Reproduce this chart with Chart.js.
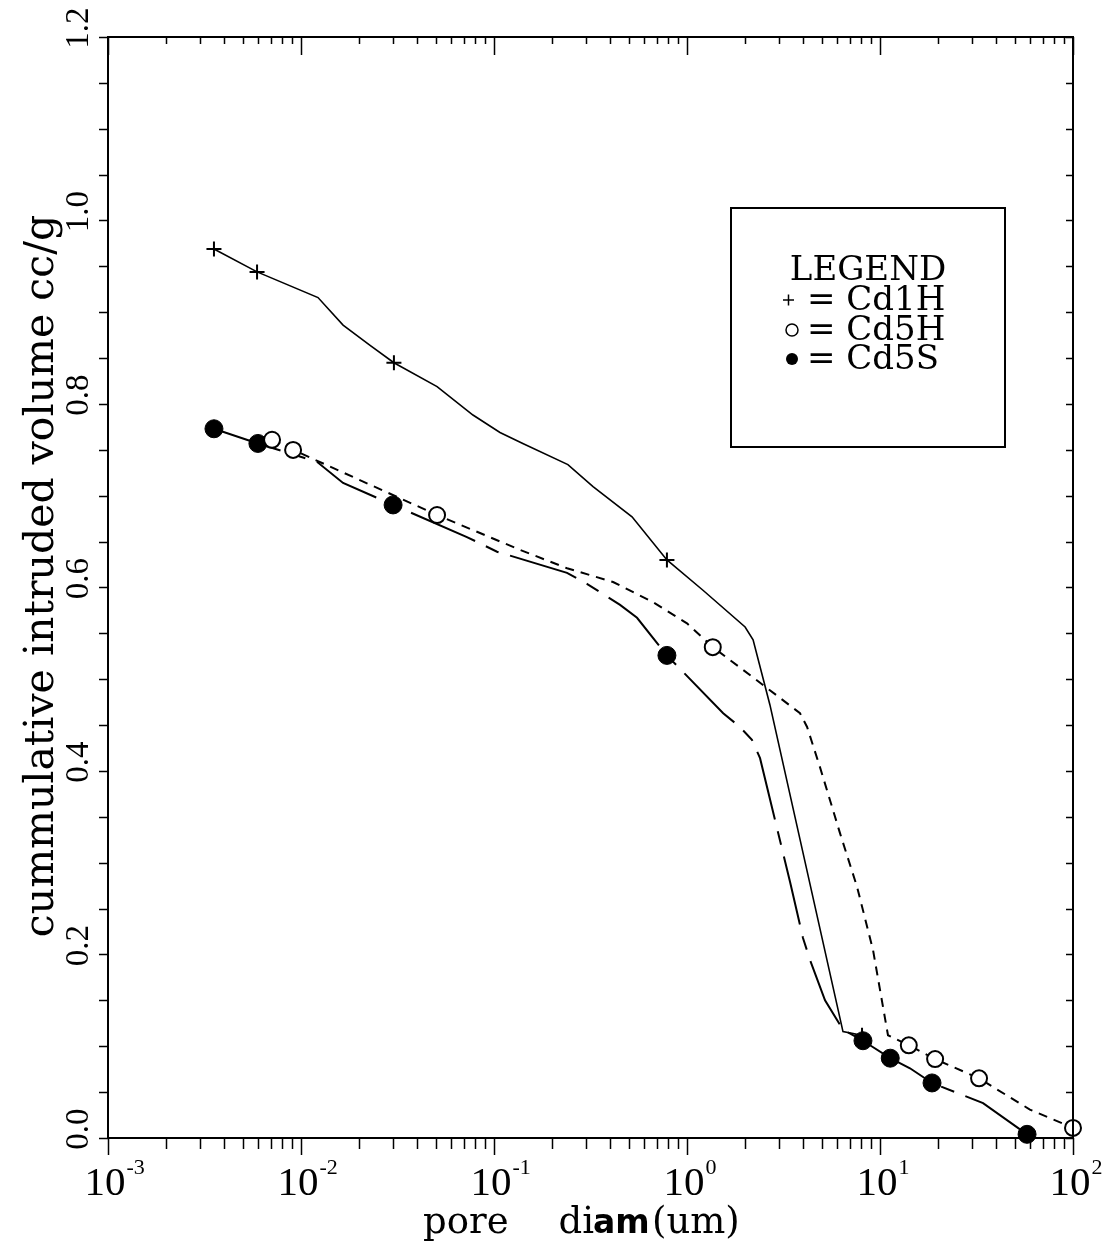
<!DOCTYPE html>
<html>
<head>
<meta charset="utf-8">
<script src="https://cdn.jsdelivr.net/npm/chart.js@4.4.1/dist/chart.umd.min.js"></script>
<style>
  html, body { margin: 0; padding: 0; background: #fff; }
  canvas { display: block; }
</style>
</head>
<body>
<canvas id="chart" width="1110" height="1247"></canvas>
<script>
// pore diameter (um) / cumulative intruded volume (cc/g)
const cd1hLineDiam = [0.00354, 0.00592, 0.01225, 0.01652, 0.0228, 0.0303, 0.0507, 0.0778, 0.1074, 0.141, 0.2415, 0.326, 0.519, 0.787, 1.21, 2.0, 2.2, 2.69, 6.43, 8.07];
const cd1hLineVol  = [0.969, 0.944, 0.916, 0.886, 0.864, 0.845, 0.819, 0.788, 0.769, 0.757, 0.734, 0.710, 0.677, 0.630, 0.597, 0.557, 0.543, 0.472, 0.116, 0.112];
const cd1hPtDiam = [0.00354, 0.00592, 0.0303, 0.787, 8.07];
const cd1hPtVol  = [0.969, 0.944, 0.845, 0.630, 0.112];

const cd5hLineDiam = [0.00708, 0.0091, 0.0507, 0.1365, 0.239, 0.414, 0.667, 1.0, 1.36, 2.2, 3.85, 4.19, 4.89, 6.21, 7.6, 9.2, 11.0, 14.1, 19.3, 32.6, 59.8, 100];
const cd5hLineVol  = [0.761, 0.750, 0.679, 0.641, 0.621, 0.606, 0.584, 0.561, 0.535, 0.502, 0.463, 0.448, 0.404, 0.332, 0.274, 0.205, 0.112, 0.101, 0.086, 0.065, 0.031, 0.011];
const cd5hPtDiam = [0.00708, 0.0091, 0.0507, 1.36, 14.1, 19.3, 32.6, 100];
const cd5hPtVol  = [0.761, 0.750, 0.679, 0.535, 0.101, 0.086, 0.065, 0.011];

const cd5sLineDiam = [0.00354, 0.00598, 0.0121, 0.01652, 0.030, 0.0724, 0.1037, 0.239, 0.303, 0.450, 0.551, 0.787, 1.54, 1.88, 2.17, 2.39, 3.42, 3.99, 4.34, 5.19, 6.43, 8.16, 11.3, 14.3, 18.6, 34.2, 57.8];
const cd5sLineVol  = [0.773, 0.757, 0.737, 0.714, 0.690, 0.655, 0.639, 0.616, 0.604, 0.581, 0.567, 0.526, 0.463, 0.448, 0.434, 0.414, 0.279, 0.218, 0.194, 0.150, 0.118, 0.106, 0.087, 0.076, 0.060, 0.038, 0.004];
const cd5sPtDiam = [0.00354, 0.00598, 0.030, 0.787, 8.16, 11.3, 18.6, 57.8];
const cd5sPtVol  = [0.773, 0.757, 0.690, 0.526, 0.106, 0.087, 0.060, 0.004];

const seriesNames = ['Cd1H', 'Cd5H', 'Cd5S'];
const xDecades = [-3, -2, -1, 0, 1, 2];
const yTickValues = [0, 0.2, 0.4, 0.6, 0.8, 1.0, 1.2];
const yTickLabels = ['0.0', '0.2', '0.4', '0.6', '0.8', '1.0', '1.2'];
const yTitle = 'cummulative intruded volume cc/g';

const pts = (xs, ys) => xs.map((x, i) => ({ x: x, y: ys[i] }));

// frame, tick marks, tick labels, titles, legend box
const decorations = {
    id: 'decorations',
    afterDraw(chart) {
        const ctx = chart.ctx;
        const a = chart.chartArea;
        const xs = chart.scales.x, ys = chart.scales.y;
        ctx.save();
        ctx.strokeStyle = '#000';
        ctx.fillStyle = '#000';
        ctx.lineWidth = 2;
        ctx.strokeRect(a.left, a.top, a.right - a.left, a.bottom - a.top);

        // x ticks
        ctx.lineWidth = 1.5;
        ctx.beginPath();
        for (const d of xDecades) {
            for (let m = 1; m <= 9; m++) {
                if (d === 2 && m > 1) break;
                const px = Math.round(xs.getPixelForValue(m * Math.pow(10, d))) + 0.5;
                const major = m === 1;
                ctx.moveTo(px, a.bottom);
                ctx.lineTo(px, a.bottom + (major ? 17 : 11));
                ctx.moveTo(px, a.top);
                ctx.lineTo(px, a.top + (major ? 18 : 7));
            }
        }
        // y ticks every 0.05
        for (let k = 0; k <= 24; k++) {
            const py = Math.round(ys.getPixelForValue(k * 0.05)) + 0.5;
            ctx.moveTo(a.left - 9, py);
            ctx.lineTo(a.left, py);
            ctx.moveTo(a.right - 7, py);
            ctx.lineTo(a.right, py);
        }
        ctx.stroke();

        // x tick labels 10^n
        xDecades.forEach(d => {
            const px = xs.getPixelForValue(Math.pow(10, d)) - 3;
            ctx.font = '41px "Liberation Serif"';
            ctx.textAlign = 'center';
            ctx.textBaseline = 'alphabetic';
            ctx.fillText('10', px, 1195);
            const w = ctx.measureText('10').width;
            ctx.font = '22px "Liberation Serif"';
            ctx.textAlign = 'left';
            ctx.fillText(String(d), px + w / 2 + 1, 1174);
        });

        // y tick labels, rotated
        ctx.font = '33px "Liberation Serif"';
        ctx.textAlign = 'center';
        ctx.textBaseline = 'alphabetic';
        yTickValues.forEach((v, i) => {
            const py = ys.getPixelForValue(v) - 9;
            ctx.save();
            ctx.translate(88, py);
            ctx.rotate(-Math.PI / 2);
            ctx.fillText(yTickLabels[i], 0, 0);
            ctx.restore();
        });

        // y title
        ctx.save();
        ctx.font = '41px "DejaVu Serif"';
        ctx.translate(53, 576);
        ctx.rotate(-Math.PI / 2);
        ctx.fillText(yTitle, 0, 0);
        ctx.restore();

        // x title
        ctx.textAlign = 'left';
        ctx.font = '37px "DejaVu Serif"';
        ctx.fillText('pore', 423, 1233);
        ctx.textAlign = 'right';
        ctx.fillText('di', 594, 1233);
        ctx.textAlign = 'left';
        ctx.font = 'bold 33px "DejaVu Sans"';
        ctx.fillText('am', 593, 1233);
        ctx.font = '37px "DejaVu Serif"';
        ctx.fillText('(um)', 652, 1233);

        // legend box
        ctx.lineWidth = 2;
        ctx.strokeRect(731, 208, 274, 239);
        ctx.font = '34px "DejaVu Serif"';
        ctx.textAlign = 'center';
        ctx.fillText('LEGEND', 868, 280);
        ctx.textAlign = 'left';
        const rows = [310, 340, 369];
        seriesNames.forEach((name, i) => {
            const y = rows[i];
            const my = y - 10;
            ctx.fillText('= ' + name, 807, y);
            ctx.lineWidth = 1.5;
            ctx.beginPath();
            if (i === 0) {
                ctx.moveTo(783, my); ctx.lineTo(794, my);
                ctx.moveTo(788.5, my - 5.5); ctx.lineTo(788.5, my + 5.5);
                ctx.stroke();
            } else {
                ctx.arc(792, my, 6, 0, Math.PI * 2);
                if (i === 2) ctx.fill(); else ctx.stroke();
            }
        });
        ctx.restore();
    }
};

const lineBase = { showLine: true, pointRadius: 0, pointHoverRadius: 0, borderColor: '#000', fill: false, clip: false, tension: 0 };
const markBase = { showLine: false, borderColor: '#000', clip: false, order: 0 };

new Chart(document.getElementById('chart').getContext('2d'), {
    type: 'scatter',
    data: {
        datasets: [
            Object.assign({}, lineBase, { label: seriesNames[0], data: pts(cd1hLineDiam, cd1hLineVol), borderWidth: 1.6, order: 2 }),
            Object.assign({}, lineBase, { label: seriesNames[1], data: pts(cd5hLineDiam, cd5hLineVol), borderWidth: 2, borderDash: [9, 7], order: 2 }),
            Object.assign({}, lineBase, { label: seriesNames[2], data: pts(cd5sLineDiam, cd5sLineVol), borderWidth: 2, borderDash: [70, 12, 14, 12], order: 2 }),
            Object.assign({}, markBase, { label: seriesNames[0] + ' pts', data: pts(cd1hPtDiam, cd1hPtVol), pointStyle: 'cross', pointRadius: 7.5, borderWidth: 2 }),
            Object.assign({}, markBase, { label: seriesNames[1] + ' pts', data: pts(cd5hPtDiam, cd5hPtVol), pointStyle: 'circle', pointRadius: 8, borderWidth: 2, backgroundColor: '#fff' }),
            Object.assign({}, markBase, { label: seriesNames[2] + ' pts', data: pts(cd5sPtDiam, cd5sPtVol), pointStyle: 'circle', pointRadius: 9, borderWidth: 1, backgroundColor: '#000' })
        ]
    },
    options: {
        responsive: false,
        animation: false,
        layout: { padding: { left: 108, right: 37, top: 37, bottom: 109 } },
        scales: {
            x: { type: 'logarithmic', min: 0.001, max: 100, display: false },
            y: { type: 'linear', min: 0, max: 1.2, display: false }
        },
        plugins: {
            legend: { display: false },
            tooltip: { enabled: false }
        }
    },
    plugins: [decorations]
});
</script>
</body>
</html>
